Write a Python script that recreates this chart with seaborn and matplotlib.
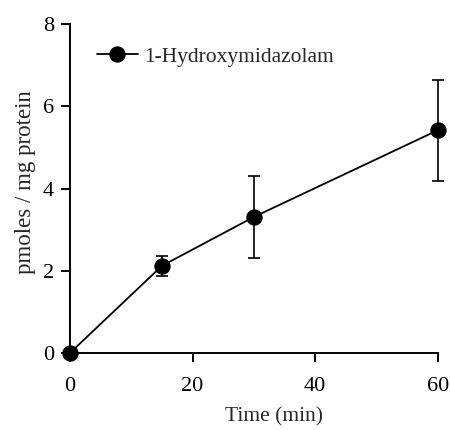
import matplotlib
matplotlib.use('AGG')

import matplotlib.pyplot as plt
import seaborn as sns
import pandas as pd

time_min = [0, 15, 30, 60]
pmoles = [0.0, 2.12, 3.31, 5.42]
sd = [0.0, 0.25, 1.0, 1.23]
series_name = '1-Hydroxymidazolam'

df = pd.DataFrame({'time': time_min, 'value': pmoles})

sns.set_style('ticks')
plt.rcParams['font.family'] = ['Liberation Serif', 'DejaVu Serif']

fig = plt.figure(figsize=(4.51, 4.30), dpi=100)
ax = fig.add_axes([0.155, 0.179, 0.816, 0.765])

ax.errorbar(time_min, pmoles, yerr=sd, fmt='none', ecolor='black',
            elinewidth=1.2, capsize=4.5, capthick=1.2, zorder=2, clip_on=False)
sns.lineplot(data=df, x='time', y='value', ax=ax, color='black', linewidth=1.3,
             marker='o', markersize=11, markeredgecolor='black',
             label=series_name, clip_on=False, zorder=3)

ax.set_xlim(0, 60)
ax.set_ylim(0, 8)
ax.set_xticks([0, 20, 40, 60])
ax.set_yticks([0, 2, 4, 6, 8])
sns.despine(ax=ax)
for s in ['left', 'bottom']:
    ax.spines[s].set_linewidth(1.4)
    ax.spines[s].set_color('black')
ax.tick_params(axis='both', direction='out', length=6.5, width=1.4,
               colors='black', labelsize=16)
ax.tick_params(axis='x', pad=11)
ax.tick_params(axis='y', pad=5)

ax.set_xlabel('Time (min)', fontsize=15.5, va='center')
ax.set_ylabel('pmoles / mg protein', fontsize=16.5, va='center')
ax.xaxis.set_label_coords(0.554, -0.195)
ax.yaxis.set_label_coords(-0.122, 0.521)

ax.legend(loc='center left', bbox_to_anchor=(0.05, 0.9), frameon=False,
          fontsize=15.5, handlelength=1.9, handletextpad=0.3, borderaxespad=0)

fig.savefig('out.png', dpi=100)
